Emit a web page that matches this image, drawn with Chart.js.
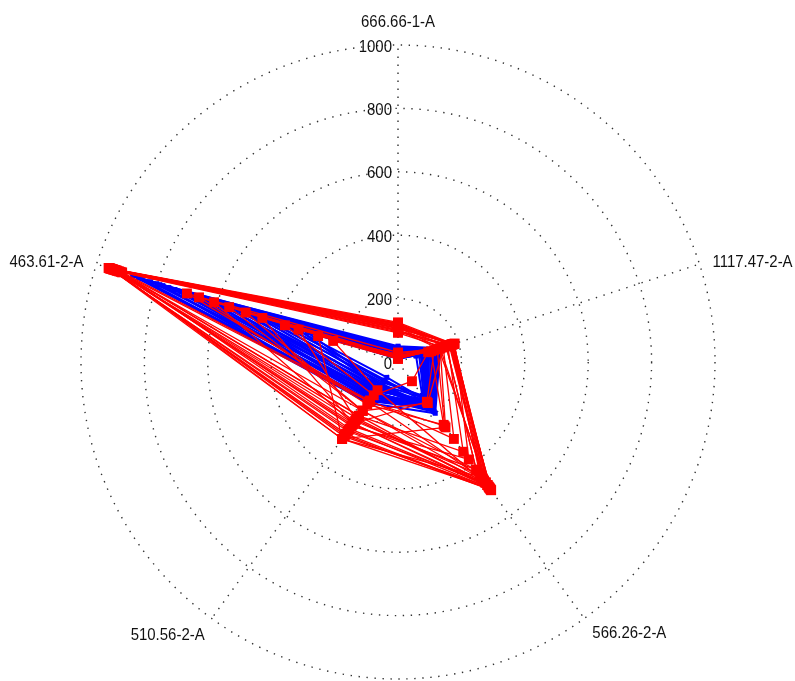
<!DOCTYPE html>
<html>
<head>
<meta charset="utf-8">
<title>Radar</title>
<script src="https://cdn.jsdelivr.net/npm/chart.js@4.4.1/dist/chart.umd.min.js"></script>
<style>
    html, body { margin: 0; padding: 0; background: #fff; }
    #wrap { position: relative; width: 795px; height: 681px; }
</style>
</head>
<body>
<div id="wrap"><canvas id="radar-chart"></canvas></div>
<script>
// axes, clockwise from the top
const axisLabels = ["666.66-1-A", "1117.47-2-A", "566.26-2-A", "510.56-2-A", "463.61-2-A"];
const tickValues = [0, 200, 400, 600, 800, 1000];

// red samples (one row per polygon)
const redSeries = [
    [118, 182, 495, 300, 955],
    [112, 178, 488, 290, 948],
    [105, 185, 480, 240, 940],
    [122, 175, 470, 270, 958],
    [100, 170, 455, 155, 935],
    [115, 180, 440, 230, 945],
    [108, 188, 380, 250, 930],
    [95, 165, 350, 210, 925],
    [120, 176, 500, 285, 950],
    [110, 140, 255, 300, 940],
    [102, 135, 480, 260, 920],
    [118, 182, 470, 220, 952],
    [125, 184, 492, 265, 960],
    [98, 172, 462, 190, 938],
    [114, 160, 420, 245, 944],
    [106, 183, 485, 210, 932],
    [121, 178, 498, 280, 956],
    [92, 150, 300, 150, 915],
    [20, 180, 490, 240, 610],
    [10, 150, 160, 190, 505],
    [15, 100, 75, 130, 375],
    [25, 175, 450, 300, 265],
    [30, 130, 250, 155, 700],
    [10, 185, 480, 110, 215],
    [20, 120, 155, 240, 450],
    [15, 160, 420, 190, 560],
    [12, 110, 245, 165, 660],
    [18, 140, 470, 225, 330],
];

// blue samples
const blueSeries = [
    [30, 110, 180, 150, 850],
    [20, 90, 170, 130, 800],
    [40, 120, 190, 120, 760],
    [10, 80, 150, 140, 700],
    [25, 100, 160, 110, 650],
    [35, 130, 185, 100, 600],
    [15, 70, 140, 90, 550],
    [30, 95, 175, 120, 500],
    [20, 60, 130, 80, 450],
    [40, 115, 165, 70, 400],
    [10, 85, 150, 60, 350],
    [25, 105, 190, 90, 300],
    [45, 125, 170, 130, 820],
    [15, 75, 155, 150, 880],
    [50, 140, 200, 160, 780],
    [35, 120, 175, 145, 720],
    [28, 110, 165, 125, 680],
    [42, 135, 195, 135, 630],
    [18, 95, 145, 115, 580],
    [33, 125, 180, 105, 530],
    [22, 88, 160, 95, 480],
    [38, 118, 185, 85, 430],
    [12, 78, 135, 75, 380],
    [30, 100, 170, 100, 330],
    [26, 92, 150, 140, 740],
    [44, 128, 188, 118, 690],
    [16, 82, 158, 128, 620],
    [36, 112, 178, 138, 570],
    [24, 98, 168, 108, 520],
    [48, 132, 192, 98, 470],
    [20, 90, 140, 160, 860],
    [32, 106, 182, 152, 790],
];

/*--------------------------------------------------------------
| Text placement (offsets from the end of each axis line)
--------------------------------------------------------------*/
const labelOffsets = [
    { dx: 0, dy: -23, align: "center" },
    { dx: 13, dy: -2, align: "left" },
    { dx: 8, dy: 15, align: "left" },
    { dx: -7, dy: 17, align: "right" },
    { dx: -13, dy: -2, align: "right" },
];

function drawText(ctx, text, x, y, align) {
    ctx.save();
    ctx.translate(x, y);
    ctx.scale(0.88, 1);
    ctx.textAlign = align;
    ctx.fillText(text, 0, 0);
    ctx.restore();
}

const axisText = {
    id: "axisText",
    beforeDatasetsDraw(chart) {
        const scale = chart.scales.r;
        const ctx = chart.ctx;
        ctx.save();
        ctx.fillStyle = "#111";
        ctx.font = "17px 'Liberation Sans', Arial, sans-serif";
        ctx.textBaseline = "middle";

        tickValues.forEach((v) => {
            const y = scale.yCenter - scale.getDistanceFromCenterForValue(v);
            drawText(ctx, String(v), scale.xCenter - 6, y + 2, "right");
        });

        axisLabels.forEach((label, i) => {
            const p = scale.getPointPosition(i, scale.drawingArea);
            const o = labelOffsets[i];
            drawText(ctx, label, p.x + o.dx, p.y + o.dy, o.align);
        });
        ctx.restore();
    },
};

function makeSet(values, color, width, radius) {
    return {
        data: values,
        borderColor: color,
        backgroundColor: color,
        borderWidth: width,
        fill: false,
        pointStyle: "rect",
        pointRadius: radius,
        pointBorderWidth: 0,
        pointBackgroundColor: color,
    };
}

/*--------------------------------------------------------------
| Radar chart
--------------------------------------------------------------*/
function radarChart() {
    const ctx = document.getElementById("radar-chart").getContext("2d");
    const dots = [1.4, 6.6];

    new Chart(ctx, {
        type: "radar",
        data: {
            labels: axisLabels,
            // red first so it is painted on top of the blue
            datasets: [
                ...redSeries.map((s) => makeSet(s, "#ff0000", 1.3, 7)),
                ...blueSeries.map((s) => makeSet(s, "#0000ff", 2, 3.5)),
            ],
        },
        options: {
            responsive: true,
            maintainAspectRatio: false,
            animation: false,
            events: [],
            layout: { padding: { left: 81, right: 80, top: 45, bottom: 2 } },
            plugins: {
                legend: { display: false },
                tooltip: { enabled: false },
            },
            elements: { line: { tension: 0 } },
            scales: {
                r: {
                    min: 0,
                    max: 1000,
                    ticks: { display: false, stepSize: 200 },
                    pointLabels: { display: false },
                    grid: { circular: true, color: "#333", lineWidth: 1.4 },
                    border: { dash: dots },
                    angleLines: { color: "#333", lineWidth: 1.4, borderDash: dots },
                },
            },
        },
        plugins: [axisText],
    });
}

document.addEventListener("DOMContentLoaded", radarChart);
</script>
</body>
</html>
